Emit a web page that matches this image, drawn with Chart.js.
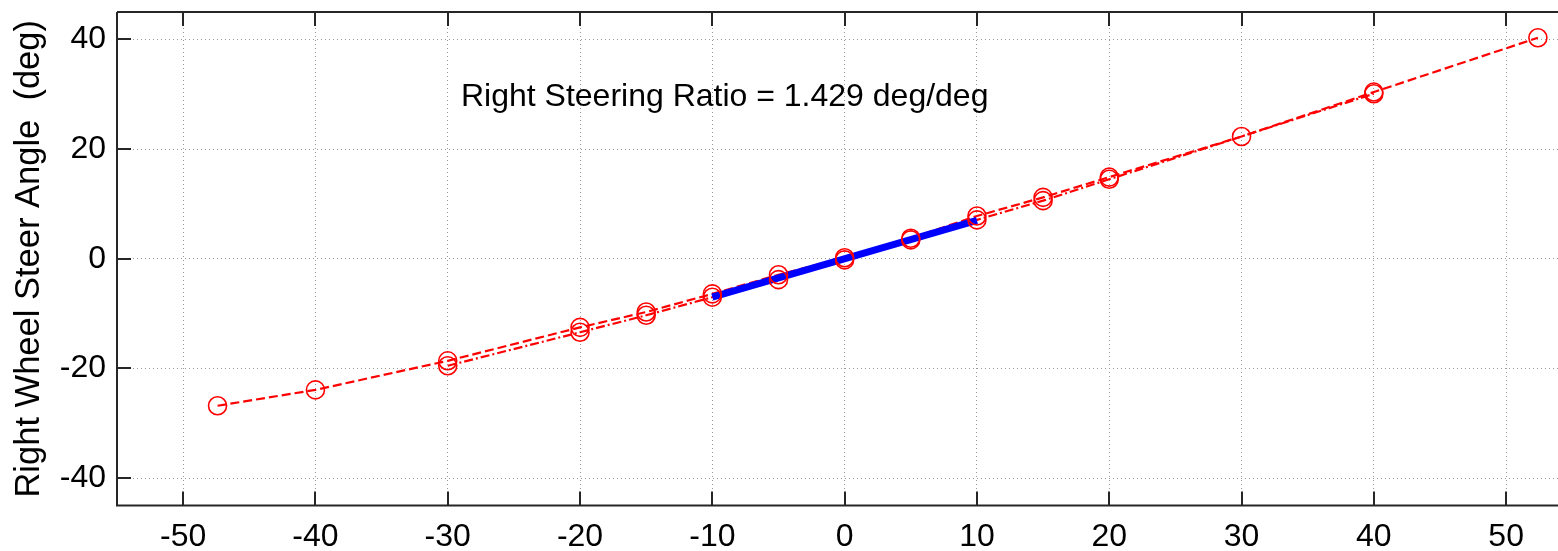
<!DOCTYPE html>
<html>
<head>
<meta charset="utf-8">
<script src="https://cdn.jsdelivr.net/npm/chart.js@4/dist/chart.umd.min.js"></script>
<style>
  html, body { margin: 0; padding: 0; background: #fff; overflow: hidden; }
</style>
</head>
<body>
<canvas id="myChart" width="1558" height="551"></canvas>
<script>
// handwheel angle (deg) vs right wheel steer angle (deg), two runs
const xRunA = [-47.4, -40, -30, -20, -15, -10, -5, 0, 5, 10, 15, 20, 30, 40, 52.4];
const yRunA = [-26.8, -23.9, -18.6, -12.5, -9.7, -6.4, -2.9, 0.2, 3.75, 7.8, 11.2, 14.9, 22.3, 30.4, 40.3];
const xRunB = [-30, -20, -15, -10, -5, 0, 5, 10, 15, 20, 40];
const yRunB = [-19.5, -13.4, -10.3, -7.0, -3.8, -0.2, 3.45, 7.1, 10.6, 14.5, 30.1];
// linear fit over +-10 deg
const xFit = [-10, 10];
const yFit = [-7.0, 7.0];

const xTicks = [-50, -40, -30, -20, -10, 0, 10, 20, 30, 40, 50];
const yTicks = [-40, -20, 0, 20, 40];
const ratioText = "Right Steering Ratio = 1.429 deg/deg";
const yTitle = "Right Wheel Steer Angle  (deg)";

const FONT = "'Liberation Sans', Arial, Helvetica, sans-serif";

function toPts(xs, ys) {
  return xs.map((x, i) => ({ x: x, y: ys[i] }));
}

// box + inward ticks + ratio text, matlab style
const matlabAxes = {
  id: "matlabAxes",
  afterDraw(chart) {
    const ctx = chart.ctx;
    const a = chart.chartArea;
    const xs = chart.scales.x;
    const ys = chart.scales.y;
    ctx.save();
    ctx.setLineDash([]);
    ctx.strokeStyle = "#262626";
    ctx.lineWidth = 2;
    ctx.beginPath();
    ctx.moveTo(a.left, a.top);
    ctx.lineTo(a.right + 2, a.top);
    ctx.moveTo(a.left, a.top);
    ctx.lineTo(a.left, a.bottom);
    ctx.lineTo(a.right + 2, a.bottom);
    ctx.stroke();
    const tl = 14;
    ctx.beginPath();
    xTicks.forEach((t) => {
      const px = Math.round(xs.getPixelForValue(t));
      ctx.moveTo(px, a.bottom);
      ctx.lineTo(px, a.bottom - tl);
      ctx.moveTo(px, a.top);
      ctx.lineTo(px, a.top + tl);
    });
    yTicks.forEach((t) => {
      const py = Math.round(ys.getPixelForValue(t));
      ctx.moveTo(a.left, py);
      ctx.lineTo(a.left + tl, py);
    });
    ctx.stroke();

    ctx.fillStyle = "#000";
    ctx.font = "32px " + FONT;
    ctx.textAlign = "left";
    ctx.textBaseline = "middle";
    ctx.fillText(ratioText, xs.getPixelForValue(-29.0), ys.getPixelForValue(29.4));
    ctx.restore();
  },
};

const lineStyle = {
  showLine: true,
  borderColor: "#ff0000",
  backgroundColor: "rgba(0,0,0,0)",
  borderWidth: 2.2,
  pointRadius: 0,
};
const markerStyle = {
  showLine: false,
  pointStyle: "circle",
  pointRadius: 9,
  pointBorderWidth: 1.6,
  pointBorderColor: "#ff0000",
  pointBackgroundColor: "rgba(0,0,0,0)",
};

const data = {
  datasets: [
    // markers on top
    Object.assign({ label: "run A pts", data: toPts(xRunA, yRunA), order: 0 }, markerStyle),
    Object.assign({ label: "run B pts", data: toPts(xRunB, yRunB), order: 0 }, markerStyle),
    {
      label: "fit",
      data: toPts(xFit, yFit),
      showLine: true,
      borderColor: "#0000ff",
      borderWidth: 7,
      borderCapStyle: "butt",
      pointRadius: 0,
      order: 1,
    },
    Object.assign({ label: "run A", data: toPts(xRunA, yRunA), borderDash: [9, 4], order: 2 }, lineStyle),
    Object.assign({ label: "run B", data: toPts(xRunB, yRunB), borderDash: [9, 3, 2, 3], order: 3 }, lineStyle),
  ],
};

const config = {
  type: "scatter",
  data: data,
  options: {
    responsive: false,
    animation: false,
    events: [],
    layout: { autoPadding: false, padding: { top: 12, left: 0, right: 0, bottom: 0 } },
    plugins: {
      legend: { display: false },
      tooltip: { enabled: false },
    },
    scales: {
      x: {
        type: "linear",
        min: -55,
        max: 53.92,
        afterBuildTicks: (scale) => {
          scale.ticks = xTicks.map((v) => ({ value: v }));
        },
        afterFit: (scale) => {
          scale.height = 45.4;
          scale.paddingLeft = 0;
          scale.paddingRight = 0;
        },
        grid: {
          color: "#9a9a9a",
          lineWidth: 1,
          drawTicks: false,
        },
        border: { display: false, dash: [1, 3] },
        ticks: {
          color: "#000",
          padding: 12,
          maxRotation: 0,
          font: { family: FONT, size: 32 },
        },
      },
      y: {
        type: "linear",
        min: -45,
        max: 45,
        afterBuildTicks: (scale) => {
          scale.ticks = yTicks.map((v) => ({ value: v }));
        },
        afterFit: (scale) => {
          scale.width = 117;
          scale.paddingTop = 0;
          scale.paddingBottom = 0;
        },
        grid: {
          color: "#9a9a9a",
          lineWidth: 1,
          drawTicks: false,
        },
        border: { display: false, dash: [1, 3] },
        ticks: {
          color: "#000",
          padding: 11,
          font: { family: FONT, size: 32 },
        },
        title: {
          display: true,
          text: yTitle,
          color: "#000",
          padding: { top: 9, bottom: 0 },
          font: { family: FONT, size: 34.5 },
        },
      },
    },
  },
  plugins: [matlabAxes],
};

const myChart = new Chart(document.getElementById("myChart"), config);
</script>
</body>
</html>
